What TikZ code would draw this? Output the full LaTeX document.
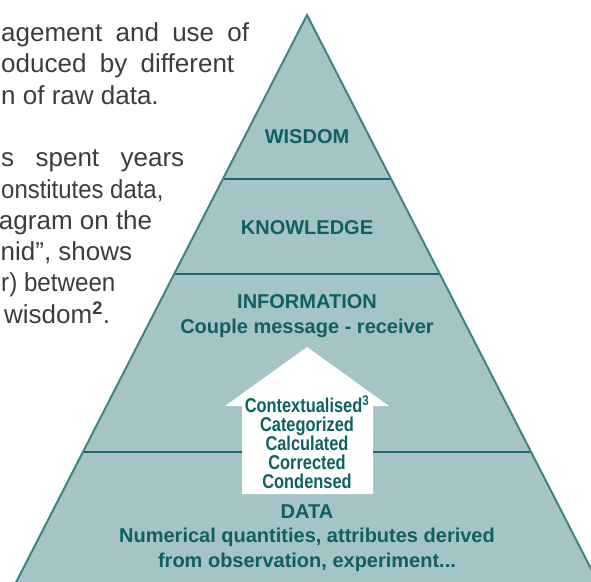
\documentclass[tikz,border=0pt]{standalone}
\usepackage{fontspec}
\setmainfont{Liberation Sans}
\newfontfamily\narrowfont[FakeStretch=0.82]{Liberation Sans}
\usetikzlibrary{calc}
\definecolor{pyrfill}{HTML}{A4C4C5}
\definecolor{pyredge}{HTML}{3E8484}
\definecolor{pyrline}{HTML}{1B6666}
\definecolor{pyrtext}{HTML}{0F6060}
\definecolor{bodytext}{HTML}{3C3C3C}
\newcommand\jline[2]{\makebox[#1pt][s]{\hspace{0pt minus 1fil}#2}}

\begin{document}
\begin{tikzpicture}[x=1pt,y=-1pt]
\tikzstyle{level} = [font=\fontsize{20}{25}\selectfont\bfseries, text=pyrtext, align=center, inner sep=0pt]
\tikzstyle{stepsbox} = [font=\narrowfont\fontsize{20}{19}\selectfont\bfseries, text=pyrtext, align=center, inner sep=0pt]
\tikzstyle{body} = [font=\fontsize{26}{31}\selectfont, text=bodytext, anchor=base west, inner sep=0pt]
\useasboundingbox (0,0) rectangle (591,581);

% pyramid
\coordinate (top) at (307,15);
\coordinate (bl) at (7,600);
\coordinate (br) at (607,600);
\fill[pyrfill] (top) -- (bl) -- (br) -- cycle;
\foreach \t [count=\i] in {0.2803,0.4427,0.7470} { %level borders
	\coordinate (a\i) at ($(top)!\t!(bl)$);
	\coordinate (b\i) at ($(top)!\t!(br)$);
	\draw[pyrline, line width=2.4pt] (a\i) -- (b\i);
}
\draw[pyredge, line width=2pt] (bl) -- (top) -- (br);

% white arrow
\fill[white] (307,347) -- (389,406) -- (373,406) -- (373,494) -- (242,494) -- (242,406) -- (225,406) -- cycle;

\node[level] (wisdom) at (307,137) {WISDOM};
\node[level] (knowledge) at (307,228) {KNOWLEDGE};
\node[level] (information) at (307,316.5) {INFORMATION\\Couple message - receiver};
\node[stepsbox] (steps) at (307,442) {Contextualised\textsuperscript{3}\\Categorized\\Calculated\\Corrected\\Condensed};
\node[level, font=\fontsize{20}{24.5}\selectfont\bfseries] (data) at (307,538) {DATA\\Numerical quantities, attributes derived\\from observation, experiment...};

% text beside the pyramid
\node[body] (p1) at (1,41.5) {\jline{248}{agement and use of}};
\node[body] (p2) at (1,72.8) {\jline{233}{oduced by different}};
\node[body] (p3) at (1,104.1) {n of raw data.};
\node[body] (p5) at (1,166.7) {\jline{183}{s spent years}};
\node[body] (p6) at (1,198) {\scalebox{0.92}[1]{onstitutes data,}};
\node[body] (p7) at (1,229.3) {\jline{151}{agram on the}};
\node[body] (p8) at (1,260.6) {\jline{131}{nid”, shows}};
\node[body] (p9) at (1,291.9) {\scalebox{0.93}[1]{r) between}};
\node[body] (p10) at (4,323.2) {wisdom\textsuperscript{\textbf{2}}.};
\end{tikzpicture}
\end{document}
